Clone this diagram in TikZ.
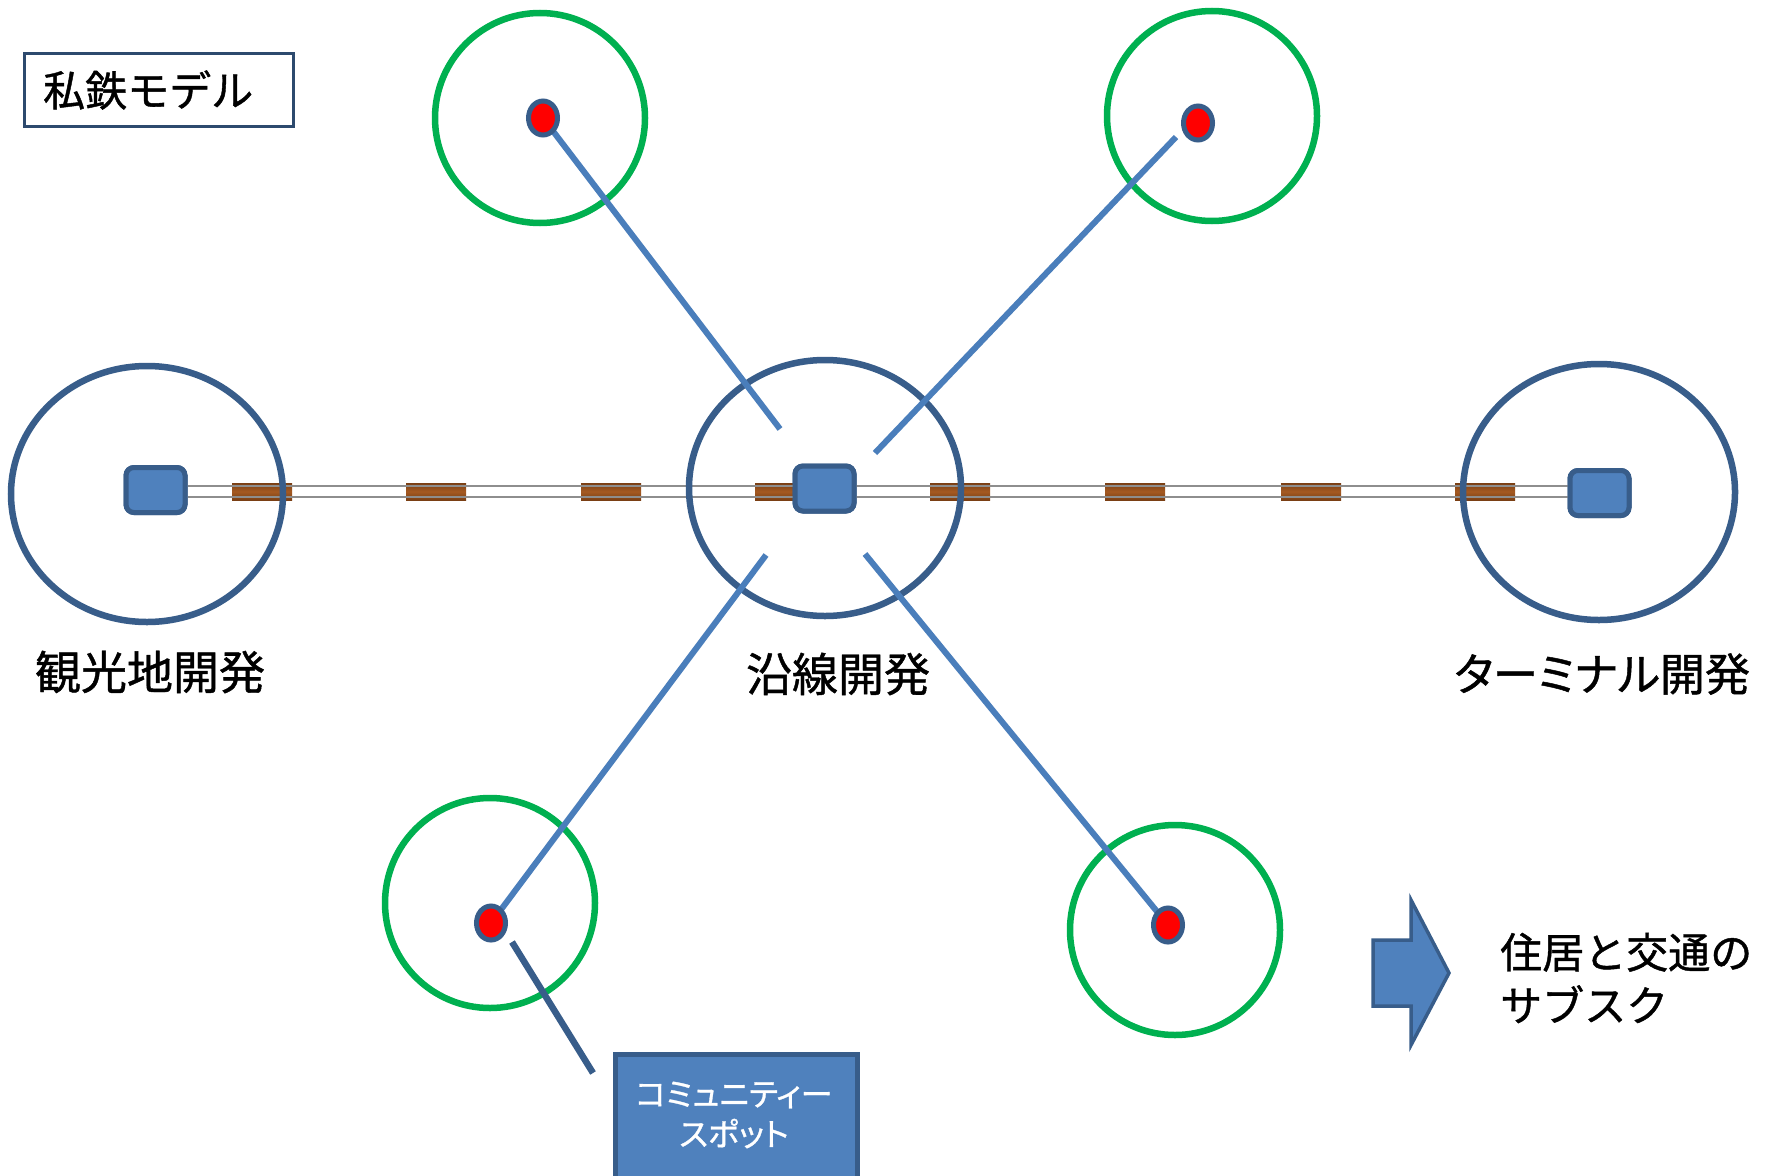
\documentclass[tikz,border=0pt]{standalone}
\usepackage{fontspec}
\newfontfamily\jp[FakeBold=1]{Noto Sans CJK JP}
\newfontfamily\jpp[RawFeature=+palt,FakeBold=1]{Noto Sans CJK JP}
\usetikzlibrary{shapes.geometric}
\definecolor{navy}{HTML}{385D8A}
\definecolor{fillblue}{HTML}{4F81BD}
\definecolor{lineblue}{HTML}{4A7EBB}
\definecolor{grn}{HTML}{00B050}
\definecolor{tie}{HTML}{A55A22}
\definecolor{tiedark}{HTML}{7A3F14}
\definecolor{rail}{HTML}{8E8E8E}
\tikzset{
  zone/.style={draw=navy, line width=6.5pt, ellipse, minimum width=272pt, minimum height=256pt, inner sep=0pt},
  area/.style={draw=grn, line width=6.5pt, circle, minimum size=210pt, inner sep=0pt},
  station/.style={draw=navy, fill=fillblue, line width=5pt, rounded corners=8pt, minimum width=59pt, minimum height=45pt, inner sep=0pt},
  spot/.style={draw=navy, fill=red, line width=5pt, ellipse, minimum width=29pt, minimum height=34pt, inner sep=0pt},
  link/.style={draw=lineblue, line width=6pt},
  sleeper/.style={top color=tiedark, bottom color=tiedark, middle color=tie, minimum width=60pt, minimum height=17pt, inner sep=0pt},
  label/.style={font=\jp\fontsize{46}{52}\selectfont, inner sep=0pt},
}
\begin{document}
\begin{tikzpicture}[x=1pt,y=-1pt]
\useasboundingbox (0,0) rectangle (1776,1175);
\fill[white] (0,0) rectangle (1776,1175);
% track sleepers
\foreach \i/\x in {1/262,2/436,3/611,4/785,5/960,6/1135,7/1311,8/1485}
  \node[sleeper] (t\i) at (\x,491.5) {};
% stations
\node[station] (sL) at (155.5,490) {};
\node[station] (sC) at (824.5,488.5) {};
\node[station] (sR) at (1599.5,493) {};
% rails
\draw[rail, line width=2.5pt] (sL.east |- 0,486) -- (sR.west |- 0,486);
\draw[rail, line width=2.5pt] (sL.east |- 0,497) -- (sR.west |- 0,497);
% zones
\node[zone] (zL) at (147,494) {};
\node[zone] (zC) at (825,488) {};
\node[zone] (zR) at (1599,492) {};
% redraw stations on top
\node[station] at (sL) {};
\node[station] at (sC) {};
\node[station] at (sR) {};
% green areas
\node[area] (g1) at (540,118) {};
\node[area] (g2) at (1212,116) {};
\node[area] (g3) at (490,903) {};
\node[area] (g4) at (1175,930) {};
% link endpoints
\coordinate (e1) at (780,429);
\coordinate (e2a) at (1176,137);
\coordinate (e2b) at (875,453);
\coordinate (e3) at (766,555);
\coordinate (e4) at (865,554);
\coordinate (e5a) at (512,942);
\coordinate (e5b) at (593,1073);
% spots positions
\coordinate (p1) at (543,118);
\coordinate (p3) at (491,923);
\coordinate (p4) at (1168,925);
% links
\draw[link] (p1) -- (e1);
\draw[link] (e2a) -- (e2b);
\draw[link] (e3) -- (p3);
\draw[link] (e4) -- (p4);
\draw[draw=navy, line width=6.5pt] (e5a) -- (e5b);
% spots
\node[spot] (d1) at (p1) {};
\node[spot] (d2) at (1198,123) {};
\node[spot] (d3) at (p3) {};
\node[spot] (d4) at (p4) {};
% title
\node[draw=navy!80!black, line width=3pt, minimum width=269pt, minimum height=73pt, inner sep=0pt] (title) at (159,90) {};
\node[anchor=west, font=\jp\fontsize{42}{48}\selectfont, inner sep=0pt] (titletext) at (43,90) {私鉄モデル};
% labels
\node[label] (lL) at (150,672) {観光地開発};
\node[label] (lC) at (838,674) {沿線開発};
\node[label, font=\jpp\fontsize{45}{52}\selectfont] (lR) at (1602,674) {ターミナル開発};
% community spot box
\node[draw=navy, fill=fillblue, line width=5pt, minimum width=242pt, minimum height=128pt, inner sep=0pt, anchor=north west] (cbox) at (613,1052) {};
\node[font=\jpp\fontsize{32}{40}\selectfont, text=white, align=center, inner sep=0pt] (ctext) at (734,1115) {コミュニティー\\スポット};
% arrow
\draw[draw=navy, fill=fillblue, line width=3.5pt, line join=miter]
  (1373,940) coordinate (a1) -- (1411,940) -- (1411,900) -- (1449,973) coordinate (atip) -- (1411,1045) -- (1411,1006) -- (1373,1006) -- cycle;
\node[anchor=west, align=left, font=\jp\fontsize{42}{53}\selectfont, inner sep=0pt] (sub) at (1500,978) {住居と交通の\\サブスク};
\end{tikzpicture}
\end{document}
